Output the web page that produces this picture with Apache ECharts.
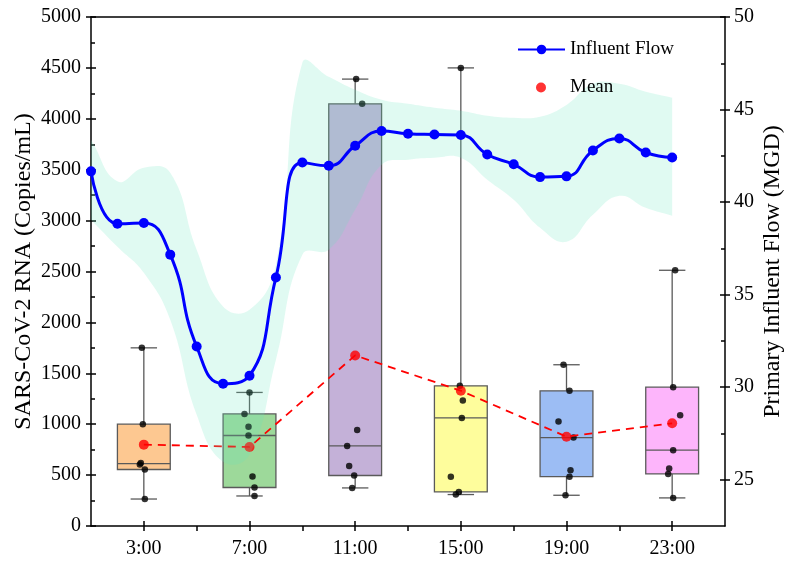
<!DOCTYPE html>
<html>
<head>
<meta charset="utf-8">
<script src="https://cdn.jsdelivr.net/npm/echarts@6/dist/echarts.min.js"></script>
<style>
  html, body { margin: 0; padding: 0; background: #ffffff; }
  #chart { width: 788px; height: 563px; }
</style>
</head>
<body>
<div id="chart"></div>
<script>
// Sampling times (box positions) and the individual RNA results at each time
const timeLabels = ['3:00', '7:00', '11:00', '15:00', '19:00', '23:00'];
const rnaSamples = [
  [1750, 1000, 620, 605, 555, 265],
  [1312, 1101, 974, 889, 486, 378, 295],
  [4390, 4147, 944, 787, 590, 496, 374],
  [4500, 1377, 1233, 1062, 485, 335, 309],
  [1584, 1328, 1027, 869, 548, 485, 302],
  [2512, 1364, 1089, 745, 564, 512, 276]
];
// Box statistics per time: [min, Q1, median, Q3, max]
const boxStats = [
  [265, 555, 612, 1000, 1750],
  [295, 378, 889, 1101, 1312],
  [374, 496, 787, 4147, 4390],
  [309, 335, 1062, 1377, 4500],
  [302, 485, 869, 1328, 1584],
  [276, 512, 745, 1364, 2512]
];
// Hourly primary influent flow (MGD) with its spread band
const flowHours = [1, 2, 3, 4, 5, 6, 7, 8, 9, 10, 11, 12, 13, 14, 15, 16, 17, 18, 19, 20, 21, 22, 23];
const flowMGD = [41.66, 38.83, 38.87, 37.16, 32.20, 30.19, 30.62, 35.93, 42.14, 41.96, 43.04, 43.84,
                 43.69, 43.65, 43.62, 42.57, 42.04, 41.35, 41.39, 42.79, 43.44, 42.68, 42.41];
const flowBandLow = [39.05, 37.59, 36.18, 33.64, 28.51, 25.97, 26.35, 31.48, 37.16, 37.43, 39.59, 42.02,
                     42.29, 42.40, 42.40, 41.21, 40.13, 38.61, 37.86, 39.32, 40.34, 39.69, 39.26];
const flowBandHigh = [43.37, 41.12, 41.86, 41.59, 37.43, 34.36, 34.18, 36.62, 47.53, 46.77, 46.07, 45.53,
                      45.31, 45.10, 44.94, 44.67, 44.56, 44.61, 45.25, 46.39, 46.39, 45.96, 45.64];
// Axis tick values
const leftTickStep = 500;
const rightTickValues = [25, 30, 35, 40, 45, 50];
const rightMinorValues = [27.5, 32.5, 37.5, 42.5, 47.5];

// ---- styling ----
const FONT = 'Liberation Serif';
const boxColors = ['#fdc891', '#9dd99a', '#c4b1d8', '#fefd9c', '#9cbdf4', '#fdb5fb'];
const edgeColor = '#5a5a5a';
const bandFill = 'rgba(100,230,190,0.2)';
// small horizontal spread (px) of the sample dots inside each box
const dotSpreadPx = [
  [-2, -1, -3, -4, 1, 1],
  [0, -5, -1, -1, 3, 5, 5],
  [1, 7, 2, -8, -6, -1, -3],
  [0, -1, 2, 1, -10, -2, -5],
  [-3, 3, -8, 7, 4, 3, -1],
  [3, 1, 8, 1, -3, -4, 1]
];

const timeHours = timeLabels.map(t => parseInt(t, 10));
const boxData = boxStats.map((s, i) => [timeHours[i]].concat(s));
const dotData = [];
rnaSamples.forEach((arr, i) => {
  arr.forEach((v, j) => {
    dotData.push({ value: [timeHours[i], v], symbolOffset: [dotSpreadPx[i][j], 0] });
  });
});
const meanData = rnaSamples.map((arr, i) => [timeHours[i], arr.reduce((a, b) => a + b, 0) / arr.length]);
const flowData = flowHours.map((h, i) => [h, flowMGD[i]]);
const bandData = flowHours.map((h, i) => [h, flowBandLow[i], flowBandHigh[i]]);
const majorHours = timeHours;
const boundaryHours = [5, 9, 13, 17, 21];

function renderBox(params, api) {
  const x = api.value(0);
  const lo = api.coord([x, api.value(1)]);
  const q1 = api.coord([x, api.value(2)]);
  const md = api.coord([x, api.value(3)]);
  const q3 = api.coord([x, api.value(4)]);
  const hi = api.coord([x, api.value(5)]);
  const span = api.size([4, 0])[0];
  const bw = span * 0.5;
  const cw = span * 0.25;
  const cx = lo[0];
  const stroke = { stroke: edgeColor, lineWidth: 1.3 };
  return {
    type: 'group',
    children: [
      { type: 'line', shape: { x1: cx, y1: q3[1], x2: cx, y2: hi[1] }, style: stroke },
      { type: 'line', shape: { x1: cx, y1: q1[1], x2: cx, y2: lo[1] }, style: stroke },
      { type: 'line', shape: { x1: cx - cw / 2, y1: hi[1], x2: cx + cw / 2, y2: hi[1] }, style: stroke },
      { type: 'line', shape: { x1: cx - cw / 2, y1: lo[1], x2: cx + cw / 2, y2: lo[1] }, style: stroke },
      { type: 'rect', shape: { x: cx - bw / 2, y: q3[1], width: bw, height: q1[1] - q3[1] },
        style: { fill: boxColors[params.dataIndex], stroke: edgeColor, lineWidth: 1.3 } },
      { type: 'line', shape: { x1: cx - bw / 2, y1: md[1], x2: cx + bw / 2, y2: md[1] }, style: stroke }
    ]
  };
}

// The flow spread band: one smoothed polygon, upper edge left→right then lower edge back.
function renderBand(params, api) {
  if (params.dataIndex !== 0) return null;
  const upper = bandData.map(r => api.coord([r[0], r[2]]));
  const lower = bandData.map(r => api.coord([r[0], r[1]])).reverse();
  // repeat the end points so the left and right edges stay straight
  const pts = [upper[0]].concat(upper, [upper[upper.length - 1], lower[0]], lower, [lower[lower.length - 1]]);
  return {
    type: 'polygon',
    shape: { points: pts, smooth: 0.45 },
    style: { fill: bandFill, stroke: null }
  };
}

const axisLine = { show: true, lineStyle: { color: '#000', width: 1.5 } };
const tickLine = { color: '#000', width: 1.5 };
const labelText = { color: '#000', fontFamily: FONT, fontSize: 20 };
const legendText = { color: '#000', fontFamily: FONT, fontSize: 19 };

const chart = echarts.init(document.getElementById('chart'), null, { renderer: 'canvas' });
chart.setOption({
  animation: false,
  backgroundColor: '#ffffff',
  grid: { left: 91, right: 63, top: 17, bottom: 37, containLabel: false, outerBoundsMode: 'none' },
  legend: [
    {
      data: ['Influent Flow'], left: 517, top: 40, padding: 0, z: 20,
      itemWidth: 47, itemHeight: 12, textStyle: legendText
    },
    {
      data: [{ name: 'Mean', icon: 'circle' }], left: 536, top: 78, padding: 0, z: 20,
      itemWidth: 10, itemHeight: 10,
      textStyle: { ...legendText, padding: [0, 0, 0, 19] }
    }
  ],
  xAxis: [
    { // labelled time axis
      type: 'value', min: 1, max: 25, position: 'bottom',
      axisLine: axisLine,
      axisTick: { show: true, inside: false, length: 5, lineStyle: tickLine,
                  customValues: majorHours.concat(boundaryHours) },
      axisLabel: { show: true, customValues: majorHours, margin: 13,
                   formatter: v => timeLabels[majorHours.indexOf(v)] || '', ...labelText },
      splitLine: { show: false }
    },
    { // inner half of the major time ticks
      type: 'value', min: 1, max: 25, position: 'bottom',
      axisLine: { show: false },
      axisTick: { show: true, inside: true, length: 5, lineStyle: tickLine, customValues: majorHours },
      axisLabel: { show: false },
      splitLine: { show: false }
    },
    { // frame top edge
      type: 'value', min: 1, max: 25, position: 'top',
      axisLine: axisLine, axisTick: { show: false }, axisLabel: { show: false },
      splitLine: { show: false }
    }
  ],
  yAxis: [
    { // RNA concentration
      type: 'value', min: 0, max: 5000, interval: leftTickStep, position: 'left',
      name: 'SARS-CoV-2 RNA (Copies/mL)', nameLocation: 'middle', nameGap: 55, nameRotate: 90,
      nameMoveOverlap: false,
      nameTextStyle: { color: '#000', fontFamily: FONT, fontSize: 24 },
      axisLine: axisLine,
      axisTick: { show: true, inside: false, length: 5, lineStyle: tickLine },
      axisLabel: { margin: 10, formatter: v => String(v), ...labelText },
      splitLine: { show: false }
    },
    { // inner ticks of the RNA axis
      type: 'value', min: 0, max: 5000, interval: leftTickStep, position: 'left',
      axisLine: { show: false },
      axisTick: { show: true, inside: true, length: 5, lineStyle: tickLine },
      minorTick: { show: true, splitNumber: 2, length: 4, lineStyle: { color: '#000', width: 1.5 } },
      axisLabel: { show: false },
      splitLine: { show: false }
    },
    { // influent flow
      type: 'value', min: 22.5, max: 50, position: 'right',
      name: 'Primary Influent Flow (MGD)', nameLocation: 'middle', nameGap: 36, nameRotate: 90,
      nameMoveOverlap: false,
      nameTextStyle: { color: '#000', fontFamily: FONT, fontSize: 24 },
      axisLine: axisLine,
      axisTick: { show: true, inside: false, length: 5, lineStyle: tickLine, customValues: rightTickValues },
      axisLabel: { margin: 9, customValues: rightTickValues, ...labelText },
      splitLine: { show: false }
    },
    { // inner ticks of the flow axis
      type: 'value', min: 22.5, max: 50, position: 'right',
      axisLine: { show: false },
      axisTick: { show: true, inside: true, length: 5, lineStyle: tickLine,
                  customValues: rightTickValues },
      axisLabel: { show: false },
      splitLine: { show: false }
    },
    { // minor flow ticks
      type: 'value', min: 22.5, max: 50, position: 'right',
      axisLine: { show: false },
      axisTick: { show: true, inside: true, length: 4, lineStyle: tickLine,
                  customValues: rightMinorValues },
      axisLabel: { show: false },
      splitLine: { show: false }
    }
  ],
  series: [
    {
      name: 'RNA', type: 'custom', xAxisIndex: 0, yAxisIndex: 0, z: 1,
      renderItem: renderBox, data: boxData, encode: { x: 0, y: [1, 2, 3, 4, 5] }
    },
    {
      name: 'Samples', type: 'scatter', xAxisIndex: 0, yAxisIndex: 0, z: 2,
      symbol: 'circle', symbolSize: 6.5, itemStyle: { color: '#000' }, data: dotData
    },
    {
      name: 'Mean trend', type: 'line', xAxisIndex: 0, yAxisIndex: 0, z: 3,
      showSymbol: false, symbol: 'none',
      lineStyle: { color: '#ff0000', width: 1.8, type: [8, 6] }, data: meanData
    },
    {
      name: 'Mean', type: 'scatter', xAxisIndex: 0, yAxisIndex: 0, z: 3,
      symbol: 'circle', symbolSize: 10, itemStyle: { color: '#ff0000' }, data: meanData
    },
    {
      name: 'Flow spread', type: 'custom', xAxisIndex: 0, yAxisIndex: 2, z: 4,
      renderItem: renderBand, data: bandData, encode: { x: 0, y: [1, 2] }, silent: true
    },
    {
      name: 'Influent Flow', type: 'line', xAxisIndex: 0, yAxisIndex: 2, z: 5,
      smooth: 0.5, symbol: 'circle', symbolSize: 10,
      itemStyle: { color: '#0000ff' }, lineStyle: { color: '#0000ff', width: 3 }, data: flowData
    }
  ]
});
</script>
</body>
</html>
